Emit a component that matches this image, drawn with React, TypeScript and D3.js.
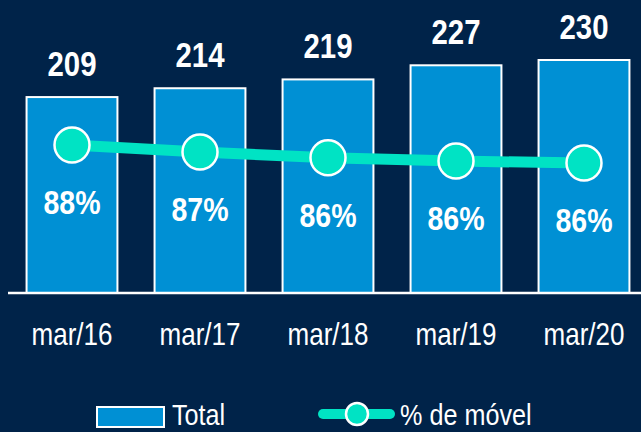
import React from "react";
import * as d3 from "d3";

const categories = ["mar/16", "mar/17", "mar/18", "mar/19", "mar/20"];
const totals = [209, 214, 219, 227, 230];
const mobileShare = [88.4, 87.3, 86.4, 85.9, 85.6];
const legendLabels = ["Total", "% de móvel"];

const W = 641;
const H = 432;
const BG = "#002349";
const BAR = "#0090d4";
const TEAL = "#00e3c4";
const FONT = "'Liberation Sans', Arial, sans-serif";
const SX = 0.84;

function NText(props: {
  x: number;
  y: number;
  size: number;
  bold?: boolean;
  anchor?: "start" | "middle" | "end";
  children: React.ReactNode;
}) {
  return (
    <text
      transform={`translate(${props.x},${props.y}) scale(${SX},1)`}
      textAnchor={props.anchor || "start"}
      fill="#fff"
      fontFamily={FONT}
      fontWeight={props.bold ? "bold" : "normal"}
      fontSize={props.size}
    >
      {props.children}
    </text>
  );
}

export default function App() {
  const x = d3
    .scaleBand<string>()
    .domain(categories)
    .range([8, 648])
    .paddingInner(0.29)
    .paddingOuter(0.145);
  const baseY = 293;
  const y = d3.scaleLinear().domain([98, 230]).range([baseY, 60]);
  const yp = d3.scaleLinear().domain([85.6, 88.4]).range([163, 145]);
  const cxOf = (i: number) => (x(categories[i]) as number) + x.bandwidth() / 2;

  const line = d3
    .line<number>()
    .x((_, i) => cxOf(i))
    .y((d) => yp(d));

  return (
    <svg
      width={W}
      height={H}
      style={{ position: "absolute", left: 0, top: 0, display: "block" }}
    >
      <rect x={0} y={0} width={W} height={H} fill={BG} />
      {totals.map((v, i) => (
        <rect
          key={"b" + i}
          x={x(categories[i]) as number}
          y={y(v)}
          width={x.bandwidth()}
          height={baseY - y(v)}
          fill={BAR}
          stroke="#fff"
          strokeWidth={2}
        />
      ))}
      <line x1={8} x2={W} y1={baseY} y2={baseY} stroke="#fff" strokeWidth={2.5} />
      {totals.map((v, i) => (
        <NText key={"t" + i} x={cxOf(i)} y={y(v) - 21} size={35} bold anchor="middle">
          {v}
        </NText>
      ))}
      <path d={line(mobileShare) || ""} fill="none" stroke={TEAL} strokeWidth={11} />
      {mobileShare.map((v, i) => (
        <g key={"p" + i}>
          <circle cx={cxOf(i)} cy={yp(v)} r={17.5} fill={TEAL} stroke="#fff" strokeWidth={2.5} />
          <NText x={cxOf(i)} y={yp(v) + 69} size={34} bold anchor="middle">
            {Math.round(v) + "%"}
          </NText>
        </g>
      ))}
      {categories.map((c, i) => (
        <NText key={"c" + i} x={cxOf(i)} y={345} size={31} anchor="middle">
          {c}
        </NText>
      ))}
      <g>
        <rect x={97} y={407} width={67} height={20} fill={BAR} stroke="#fff" strokeWidth={2} />
        <NText x={172} y={425} size={30}>
          {legendLabels[0]}
        </NText>
        <line x1={323} x2={390} y1={414} y2={414} stroke={TEAL} strokeWidth={10} strokeLinecap="round" />
        <circle cx={357} cy={414} r={11} fill={TEAL} stroke="#fff" strokeWidth={2.5} />
        <NText x={400} y={425} size={30}>
          {legendLabels[1]}
        </NText>
      </g>
    </svg>
  );
}
